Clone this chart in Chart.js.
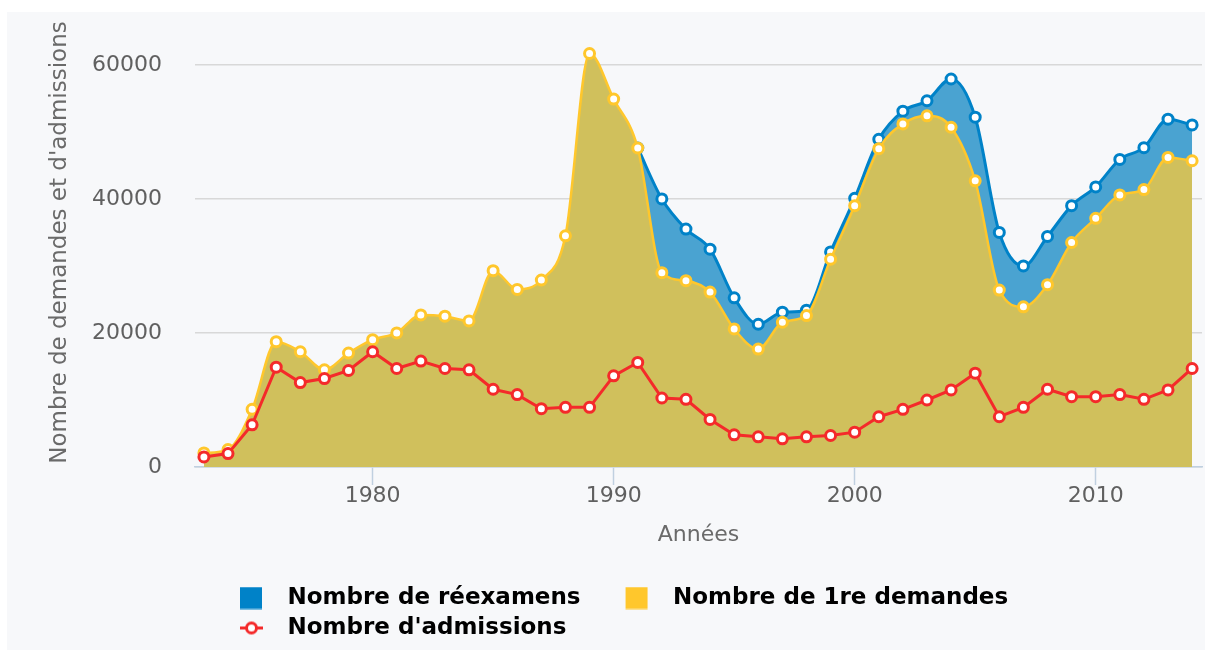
<!DOCTYPE html>
<html>
<head>
<meta charset="utf-8">
<script src="https://cdn.jsdelivr.net/npm/chart.js@4"></script>
<style>
  html, body { margin: 0; padding: 0; background: #ffffff; overflow: hidden; }
  #c { display: block; }
</style>
</head>
<body>
<canvas id="c" width="1212" height="650"></canvas>
<script>
// ---- Data ----
const years = [1973, 1974, 1975, 1976, 1977, 1978, 1979, 1980, 1981, 1982,
  1983, 1984, 1985, 1986, 1987, 1988, 1989, 1990, 1991, 1992,
  1993, 1994, 1995, 1996, 1997, 1998, 1999, 2000, 2001, 2002,
  2003, 2004, 2005, 2006, 2007, 2008, 2009, 2010, 2011, 2012,
  2013, 2014];

const premieresDemandes = [2100, 2600, 8600, 18700, 17200, 14500, 17000, 19000, 20000, 22700,
  22500, 21800, 29300, 26500, 27900, 34500, 61700, 54900, 47600, 29000,
  27800, 26100, 20600, 17600, 21600, 22600, 31000, 39000, 47500, 51200,
  52400, 50700, 42700, 26400, 23900, 27200, 33500, 37100, 40600, 41400,
  46200, 45700];

const reexamens = [null, null, null, null, null, null, null, null, null, null,
  null, null, null, null, null, null, null, null, 0, 11000,
  7700, 6400, 4650, 3700, 1500, 800, 1100, 1100, 1400, 1900,
  2250, 7200, 9500, 8600, 6100, 7200, 5500, 4700, 5300, 6250,
  5700, 5350];

const admissions = [1500, 2000, 6300, 14900, 12600, 13200, 14400, 17200, 14700, 15800,
  14700, 14500, 11600, 10800, 8700, 8900, 8900, 13600, 15600, 10300,
  10100, 7100, 4800, 4500, 4200, 4500, 4700, 5200, 7500, 8600,
  10000, 11500, 14000, 7500, 8900, 11600, 10500, 10500, 10800, 10100,
  11500, 14700];

const yTicks = [0, 20000, 40000, 60000];
const xTicks = [1980, 1990, 2000, 2010];

const labelReexamens = 'Nombre de réexamens';
const labelDemandes = 'Nombre de 1re demandes';
const labelAdmissions = "Nombre d'admissions";
const yTitle = "Nombre de demandes et d'admissions";
const xTitle = 'Années';

// ---- Styles ----
const BLUE = '#0082C8';
const BLUE_FILL = 'rgb(74,163,209)';
const YELLOW = '#FFC72C';
const YELLOW_FILL = 'rgb(208,192,92)';
const RED = '#F42A2A';
const FONT = 'DejaVu Sans';

const toPoints = arr => years.map((y, i) => ({ x: y, y: arr[i] }));

function makeIcon(kind, color) {
  const W = 74, H = 23, m = 38;
  const cv = document.createElement('canvas');
  cv.width = W; cv.height = H;
  const c = cv.getContext('2d');
  if (kind === 'rect') {
    c.fillStyle = color;
    c.fillRect(m, 0.5, 22, 22);
  } else {
    c.strokeStyle = color;
    c.lineWidth = 3;
    c.beginPath(); c.moveTo(m, 11.5); c.lineTo(m + 23, 11.5); c.stroke();
    c.beginPath(); c.arc(m + 11.5, 11.5, 5, 0, Math.PI * 2);
    c.fillStyle = '#ffffff'; c.fill(); c.stroke();
  }
  return cv;
}
const iconBlue = makeIcon('rect', BLUE);
const iconYellow = makeIcon('rect', YELLOW);
const iconRed = makeIcon('line', RED);

const bgPlugin = {
  id: 'bg',
  beforeDraw(chart) {
    const ctx = chart.ctx;
    ctx.save();
    ctx.fillStyle = '#ffffff';
    ctx.fillRect(0, 0, chart.width, chart.height);
    ctx.fillStyle = '#F7F8FA';
    ctx.fillRect(7, 12, 1198, chart.height - 12);
    ctx.restore();
  }
};

const markerCommon = { pointRadius: 5, pointBorderWidth: 3, pointBackgroundColor: '#ffffff', pointHoverRadius: 5 };

new Chart(document.getElementById('c'), {
  type: 'line',
  data: {
    datasets: [
      Object.assign({
        label: labelAdmissions,
        data: toPoints(admissions),
        borderColor: RED,
        pointBorderColor: RED,
        borderWidth: 3,
        fill: false,
        tension: 0,
        stack: 'adm'
      }, markerCommon),
      Object.assign({
        label: labelDemandes,
        data: toPoints(premieresDemandes),
        borderColor: YELLOW,
        pointBorderColor: YELLOW,
        backgroundColor: YELLOW_FILL,
        borderWidth: 2.5,
        fill: 'origin',
        cubicInterpolationMode: 'monotone',
        stack: 'dem'
      }, markerCommon),
      Object.assign({
        label: labelReexamens,
        data: toPoints(reexamens),
        borderColor: BLUE,
        pointBorderColor: BLUE,
        backgroundColor: BLUE_FILL,
        borderWidth: 3,
        fill: '-1',
        cubicInterpolationMode: 'monotone',
        stack: 'dem'
      }, markerCommon)
    ]
  },
  options: {
    responsive: false,
    animation: false,
    devicePixelRatio: 1,
    layout: { padding: { left: 30, right: 10, top: 18, bottom: 0.5 } },
    scales: {
      x: {
        type: 'linear',
        min: 1972.63,
        max: 2014.41,
        afterBuildTicks: s => { s.ticks = xTicks.map(v => ({ value: v })); },
        ticks: {
          callback: v => String(v),
          font: { family: FONT, size: 22 },
          color: '#606060',
          padding: -2,
          maxRotation: 0
        },
        grid: { drawOnChartArea: false, drawTicks: true, tickLength: 18, tickColor: '#C0D0E0', tickWidth: 1.5 },
        border: { display: true, color: '#C0D0E0', width: 1.5 },
        title: {
          display: true, text: xTitle,
          font: { family: FONT, size: 22 }, color: '#6a6a6a',
          padding: { top: 14.4, bottom: 31.3 }
        }
      },
      y: {
        stacked: true,
        min: 0,
        max: 67000,
        afterBuildTicks: s => { s.ticks = yTicks.map(v => ({ value: v })); },
        ticks: {
          callback: v => String(v),
          font: { family: FONT, size: 22 },
          color: '#606060',
          padding: 0
        },
        grid: { color: '#D8D8D8', lineWidth: 1.5, drawTicks: true, tickLength: 33, tickColor: 'rgba(0,0,0,0)' },
        border: { display: false },
        title: {
          display: true, text: yTitle,
          font: { family: FONT, size: 23 }, color: '#6a6a6a',
          padding: { top: 16.2, bottom: 18.2 }
        }
      }
    },
    plugins: {
      tooltip: { enabled: false },
      legend: {
        position: 'bottom',
        align: 'start',
        fullSize: false,
        labels: {
          usePointStyle: true,
          pointStyleWidth: 74,
          boxHeight: 23,
          padding: 7,
          color: '#2b2b2b',
          font: { family: FONT, size: 23, weight: 'bold' },
          generateLabels: () => [
            { text: labelReexamens, pointStyle: iconBlue, fillStyle: BLUE, strokeStyle: BLUE, lineWidth: 0, hidden: false, datasetIndex: 2 },
            { text: labelDemandes, pointStyle: iconYellow, fillStyle: YELLOW, strokeStyle: YELLOW, lineWidth: 0, hidden: false, datasetIndex: 1 },
            { text: labelAdmissions, pointStyle: iconRed, fillStyle: RED, strokeStyle: RED, lineWidth: 0, hidden: false, datasetIndex: 0 }
          ]
        }
      }
    }
  },
  plugins: [bgPlugin]
});
</script>
</body>
</html>
